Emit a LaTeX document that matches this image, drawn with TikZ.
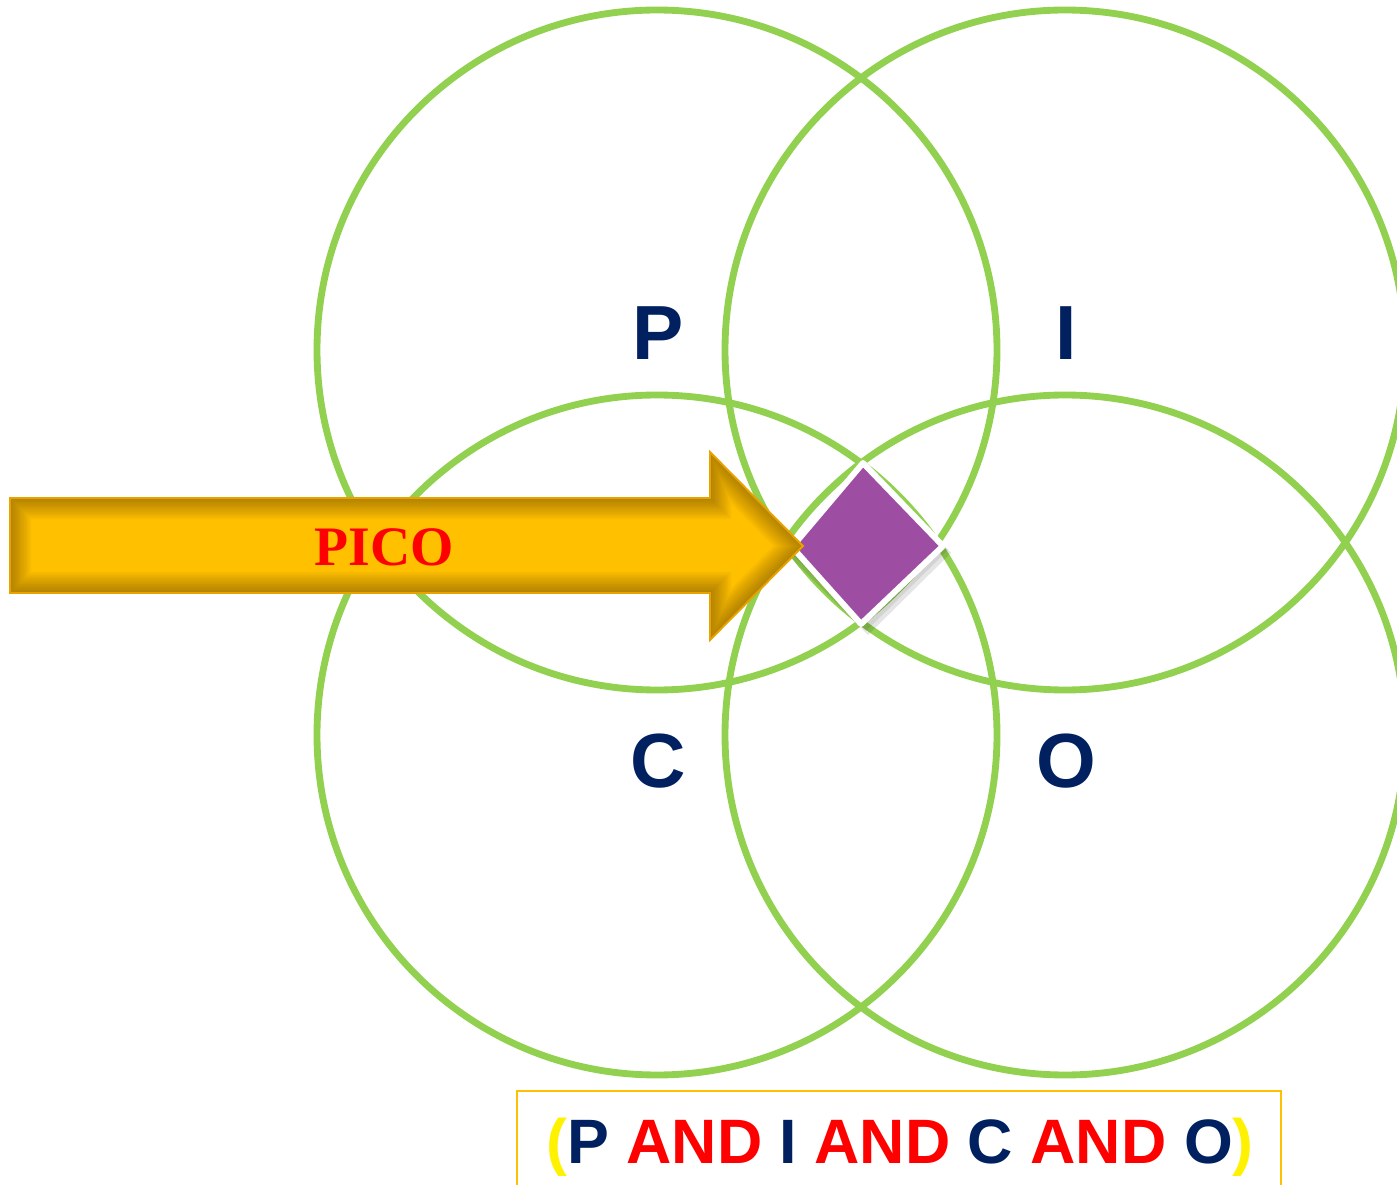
\documentclass[tikz,border=0pt]{standalone}
\usepackage{fontspec}
\setmainfont{Liberation Serif}
\newfontfamily\arialb{Liberation Sans}[BoldFont={* Bold}]
\definecolor{ringgreen}{HTML}{92D050}
\definecolor{navy}{HTML}{002060}
\definecolor{gold}{HTML}{FFC000}
\definecolor{goldedge}{HTML}{E8A300}
\definecolor{purp}{HTML}{9E4EA2}
\tikzset{
  ring/.style={draw=ringgreen, line width=3.9pt},
  biglet/.style={font=\arialb\bfseries\fontsize{43.7}{44}\selectfont, text=navy, inner sep=0pt, anchor=base},
}
\begin{document}
\begin{tikzpicture}[x=0.02cm,y=-0.02cm]
\useasboundingbox (0,0) rectangle (1397,1185);
\clip (0,0) rectangle (1397,1185);
% circles
\draw[ring] (657,350) circle (340);
\draw[ring] (1065,350) circle (340);
\draw[ring] (657,735) circle (340);
\draw[ring] (1065,735) circle (340);
% letters
\foreach \t/\x/\y in {P/658/360, I/1066/360, C/658/787, O/1066/787}{
  \node[biglet] (L\t) at (\x,\y) {\t};
}
% diamond
\fill[black, opacity=0.10] (868,470)--(951,553)--(868,635)--(786,553)--cycle;
\fill[black, opacity=0.08] (866,467)--(948,550)--(866,631)--(788,550)--cycle;
\draw[white, fill=purp, line width=3.4pt, line join=round] (863,463)--(943,546)--(861,624)--(792,547)--cycle;
\coordinate (dia) at (865,545);
% arrow
\coordinate (a1) at (10,498);
\coordinate (a2) at (710,498);
\coordinate (a3) at (710,452);
\coordinate (a4) at (803,546);
\coordinate (a5) at (710,640);
\coordinate (a6) at (710,593);
\coordinate (a7) at (10,593);
\fill[gold] (a1)--(a2)--(a3)--(a4)--(a5)--(a6)--(a7)--cycle;
\begin{scope}
  \clip (a1)--(a2)--(a3)--(a4)--(a5)--(a6)--(a7)--cycle;
  \foreach \w in {24,22,...,2}{
    \draw[black!70!brown, line width=\w pt, opacity=0.035, line join=miter] (a1)--(a2)--(a3)--(a4)--(a5)--(a6)--(a7)--cycle;
  }
\end{scope}
\draw[goldedge, line width=1.1pt, line join=miter] (a1)--(a2)--(a3)--(a4)--(a5)--(a6)--(a7)--cycle;
\node[font=\bfseries\fontsize{31.7}{32}\selectfont, text=red, inner sep=0pt, anchor=base] (pico) at (384,566) {PICO};
% bottom box
\draw[gold, line width=1.2pt] (517,1091) rectangle (1281,1200);
\node[font=\arialb\bfseries\fontsize{35.7}{36}\selectfont, inner sep=0pt, anchor=base] (formula) at (900,1163)
  {\textcolor{yellow}{(}\textcolor{navy}{P} \textcolor{red}{AND} \textcolor{navy}{I} \textcolor{red}{AND} \textcolor{navy}{C} \textcolor{red}{AND} \textcolor{navy}{O}\textcolor{yellow}{)}};
\end{tikzpicture}
\end{document}
